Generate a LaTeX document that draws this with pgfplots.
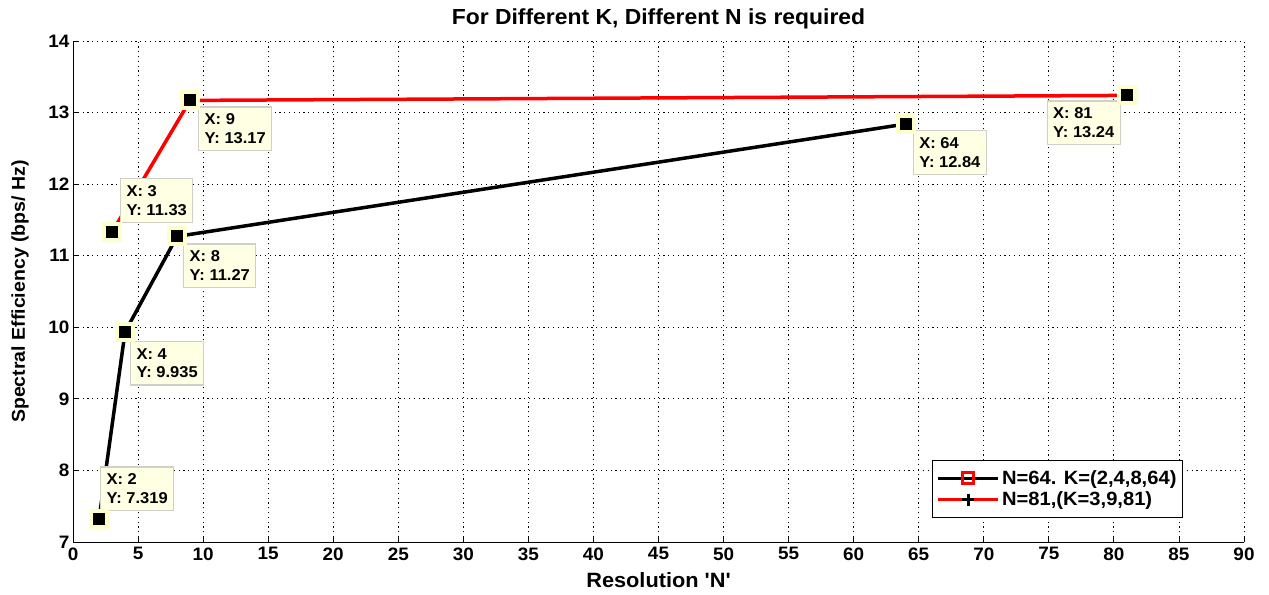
\documentclass[border=0pt]{standalone}
\usepackage{fontspec}
\setmainfont{Liberation Sans}[FakeStretch=1.05, Ligatures=TeXOff]
\usepackage{pgfplots}
\pgfplotsset{compat=1.18}
\definecolor{tipfill}{HTML}{FFFFE3}
\definecolor{tipdraw}{HTML}{D0D0C8}
\definecolor{halo}{HTML}{FFFFCC}
\begin{document}
\begin{tikzpicture}[
  tip/.style={fill=tipfill, draw=tipdraw, line width=1.2pt, align=left,
    font=\fontsize{15.7}{18.5}\selectfont\bfseries, inner xsep=6pt, inner ysep=7pt}]
\begin{axis}[
  scale only axis, width=1171pt, height=501pt,
  xmin=0, xmax=90, ymin=7, ymax=14,
  xtick={0,5,...,90}, ytick={7,8,...,14},
  axis x line*=bottom, axis y line*=left,
  axis line style={-, black, line width=1pt},
  tick align=inside, major tick length=5pt,
  tick style={black, line width=0.8pt},
  grid=major,
  grid style={black, dash pattern=on 1.2pt off 3.6pt, line width=0.9pt},
  /pgf/number format/assume math mode=true,
  ticklabel style={font=\fontsize{18}{20}\selectfont\bfseries},
  xticklabel style={yshift=-2pt},
  xlabel={Resolution 'N'},
  ylabel={Spectral Efficiency (bps/ Hz)},
  title={For Different K, Different N is required},
  xlabel style={at={(axis description cs:0.5,-0.0758)}, anchor=center, font=\fontsize{20.7}{22}\selectfont\bfseries},
  ylabel style={at={(axis description cs:-0.0453,0.5)}, anchor=center, font=\fontsize{18.6}{20}\selectfont\bfseries},
  title style={at={(axis description cs:0.5,1.032)}, anchor=center, font=\fontsize{21.8}{24}\selectfont\bfseries},
  legend style={at={(0.948,0.048)}, anchor=south east, draw=black, line width=1.2pt,
    font=\fontsize{19.2}{21}\selectfont\bfseries, inner xsep=4pt, inner ysep=8pt,
    row sep=2pt, cells={anchor=west}},
  legend image code/.code={\draw[mark repeat=2,mark phase=2,#1] plot coordinates {(0pt,0pt) (30pt,0pt) (60pt,0pt)};},
]
\addlegendimage{black, line width=3.5pt, mark=square, mark size=5.5pt, mark options={red, line width=3pt}}
\addlegendentry{N=64. K=(2,4,8,64)}
\addlegendimage{red, line width=3.5pt, mark=+, mark size=6pt, mark options={black, line width=3.5pt}}
\addlegendentry{N=81,(K=3,9,81)}
\addplot[black, line width=3.5pt, forget plot] coordinates {(2,7.319) (4,9.935) (8,11.27) (64,12.84)};
\addplot[red, line width=3.5pt, forget plot] coordinates {(3,11.33) (9,13.17) (81,13.24)};
\addplot[only marks, halo, mark=square*, mark size=9.5pt, mark options={draw=halo, fill=halo, line width=0pt}, forget plot]
  coordinates {(2,7.319) (4,9.935) (8,11.27) (64,12.84) (3,11.33) (9,13.17) (81,13.24)};
\addplot[only marks, black, mark=square*, mark size=5.5pt, mark options={draw=black, fill=black, line width=0pt}, forget plot]
  coordinates {(2,7.319) (4,9.935) (8,11.27) (64,12.84) (3,11.33) (9,13.17) (81,13.24)};
\node[tip, anchor=south west] at ([shift={(1pt,8pt)}]axis cs:2,7.319) {X: 2\\Y: 7.319};
\node[tip, anchor=north west] at ([shift={(5pt,-9pt)}]axis cs:4,9.935) {X: 4\\Y: 9.935};
\node[tip, anchor=north west] at ([shift={(6pt,-7pt)}]axis cs:8,11.27) {X: 8\\Y: 11.27};
\node[tip, anchor=north west] at ([shift={(7pt,-6pt)}]axis cs:64,12.84) {X: 64\\Y: 12.84};
\node[tip, anchor=south west] at ([shift={(8pt,9pt)}]axis cs:3,11.33) {X: 3\\Y: 11.33};
\node[tip, anchor=north west] at ([shift={(8pt,-6pt)}]axis cs:9,13.17) {X: 9\\Y: 13.17};
\node[tip, anchor=north east] at ([shift={(-6pt,-5pt)}]axis cs:81,13.24) {X: 81\\Y: 13.24};
\end{axis}
\pgfresetboundingbox
\path ([shift={(-73pt,-52pt)}]current axis.south west) rectangle ([shift={(25pt,41pt)}]current axis.north east);
\end{tikzpicture}
\end{document}
